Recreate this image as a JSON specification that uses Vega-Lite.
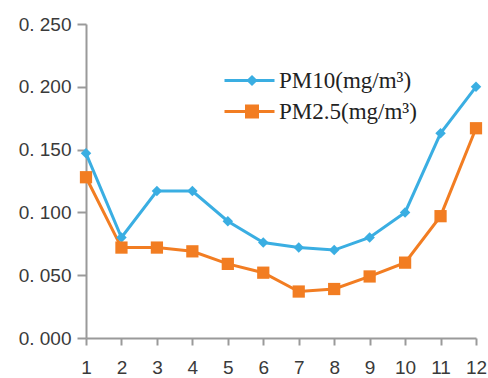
{
  "$schema": "https://vega.github.io/schema/vega-lite/v6.json",
  "width": 390,
  "height": 314,
  "autosize": {"type": "none"},
  "padding": {"left": 86, "top": 24, "right": 12, "bottom": 40},
  "background": "white",
  "config": {
    "view": {"stroke": null},
    "axis": {
      "grid": false,
      "domainColor": "#9a9a9a",
      "domainWidth": 2,
      "tickColor": "#9a9a9a",
      "tickWidth": 2,
      "tickSize": 7,
      "labelFont": "Liberation Sans",
      "labelFontSize": 19,
      "labelColor": "#3a3a3a",
      "title": null
    }
  },
  "data": {
    "values": [
      {"month": 1, "series": "PM10(mg/m³)", "value": 0.147},
      {"month": 2, "series": "PM10(mg/m³)", "value": 0.080},
      {"month": 3, "series": "PM10(mg/m³)", "value": 0.117},
      {"month": 4, "series": "PM10(mg/m³)", "value": 0.117},
      {"month": 5, "series": "PM10(mg/m³)", "value": 0.093},
      {"month": 6, "series": "PM10(mg/m³)", "value": 0.076},
      {"month": 7, "series": "PM10(mg/m³)", "value": 0.072},
      {"month": 8, "series": "PM10(mg/m³)", "value": 0.070},
      {"month": 9, "series": "PM10(mg/m³)", "value": 0.080},
      {"month": 10, "series": "PM10(mg/m³)", "value": 0.100},
      {"month": 11, "series": "PM10(mg/m³)", "value": 0.163},
      {"month": 12, "series": "PM10(mg/m³)", "value": 0.200},
      {"month": 1, "series": "PM2.5(mg/m³)", "value": 0.128},
      {"month": 2, "series": "PM2.5(mg/m³)", "value": 0.072},
      {"month": 3, "series": "PM2.5(mg/m³)", "value": 0.072},
      {"month": 4, "series": "PM2.5(mg/m³)", "value": 0.069},
      {"month": 5, "series": "PM2.5(mg/m³)", "value": 0.059},
      {"month": 6, "series": "PM2.5(mg/m³)", "value": 0.052},
      {"month": 7, "series": "PM2.5(mg/m³)", "value": 0.037},
      {"month": 8, "series": "PM2.5(mg/m³)", "value": 0.039},
      {"month": 9, "series": "PM2.5(mg/m³)", "value": 0.049},
      {"month": 10, "series": "PM2.5(mg/m³)", "value": 0.060},
      {"month": 11, "series": "PM2.5(mg/m³)", "value": 0.097},
      {"month": 12, "series": "PM2.5(mg/m³)", "value": 0.167}
    ]
  },
  "encoding": {
    "x": {
      "field": "month",
      "type": "quantitative",
      "scale": {"domain": [1, 12], "nice": false, "zero": false},
      "axis": {"values": [1,2,3,4,5,6,7,8,9,10,11,12], "format": "d", "labelPadding": 13, "labelFlush": false}
    },
    "y": {
      "field": "value",
      "type": "quantitative",
      "scale": {"domain": [0, 0.25], "nice": false},
      "axis": {"values": [0, 0.05, 0.1, 0.15, 0.2, 0.25], "labelExpr": "replace(format(datum.value, '.3f'), '.', '. ')", "labelPadding": 6, "tickSize": 9}
    }
  },
  "layer": [
    {
      "mark": {"type": "line", "strokeWidth": 3},
      "encoding": {
        "color": {
          "field": "series",
          "type": "nominal",
          "scale": {"domain": ["PM10(mg/m³)", "PM2.5(mg/m³)"], "range": ["#3aaee2", "#f27d22"]},
          "legend": {
            "title": null,
            "orient": "none",
            "legendX": 152,
            "legendY": 45,
            "labelFont": "Liberation Serif",
            "labelFontSize": 23,
            "labelColor": "#222222",
            "rowPadding": 7,
            "symbolSize": 400,
            "labelOffset": 18,
            "encode": {
              "symbols": {
                "update": {
                  "shape": {"signal": "datum.value == 'PM10(mg/m³)' ? 'M-2.5,0L2.5,0M0.25,-0.35L0.6,0L0.25,0.35L-0.1,0Z' : 'M-2.5,0L2.5,0M-0.3,-0.55L0.8,-0.55L0.8,0.55L-0.3,0.55Z'"},
                  "size": {"value": 400},
                  "strokeWidth": {"value": 3},
                  "fill": {"signal": "scale('color', datum.value)"},
                  "stroke": {"signal": "scale('color', datum.value)"},
                  "opacity": {"value": 1}
                }
              }
            }
          }
        }
      }
    },
    {
      "mark": {"type": "point", "filled": true, "opacity": 1},
      "encoding": {
        "shape": {
          "condition": {"test": "datum.series == 'PM10(mg/m³)'", "value": "diamond"},
          "value": "square"
        },
        "size": {
          "condition": {"test": "datum.series == 'PM10(mg/m³)'", "value": 110},
          "value": 150
        },
        "color": {
          "condition": {"test": "datum.series == 'PM10(mg/m³)'", "value": "#3aaee2"},
          "value": "#f27d22"
        }
      }
    }
  ]
}
